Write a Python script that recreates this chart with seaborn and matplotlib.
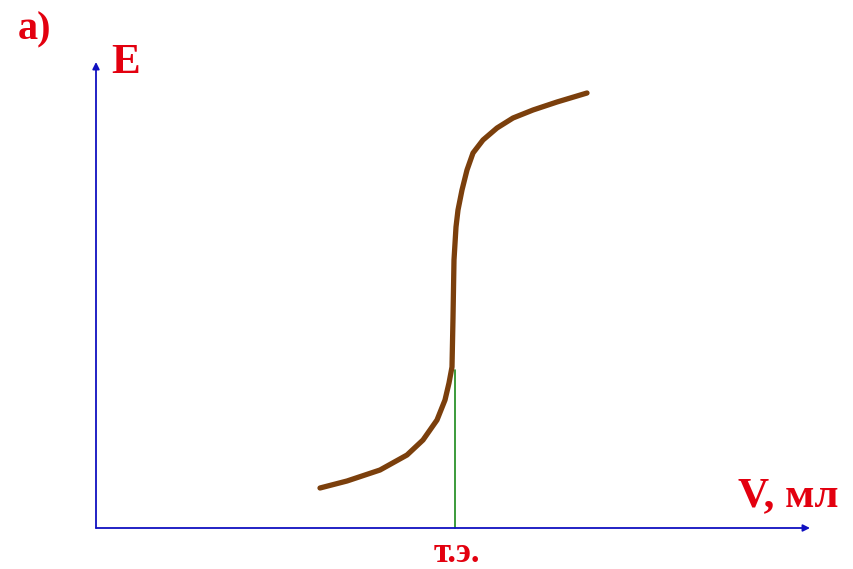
import numpy as np
import pandas as pd
import matplotlib
matplotlib.use('Agg')
import matplotlib.pyplot as plt
import seaborn as sns

# titration curve (arbitrary units)
volume = [11.2, 12.55, 14.2, 15.55, 16.35, 17.05, 17.45, 17.65, 17.8, 17.85,
          17.85, 17.9, 18.0, 18.1, 18.3, 18.55, 18.85, 19.35, 20.05, 20.85,
          21.85, 23.05, 24.55]
potential = [2.0, 2.35, 2.9, 3.65, 4.4, 5.4, 6.4, 7.25, 8.05, 9.25,
             11.75, 13.4, 15.05, 15.9, 16.9, 17.9, 18.75, 19.4, 20.0, 20.5,
             20.9, 21.3, 21.75]

eq_volume = 17.95
eq_potential = 7.9

x_axis_end = 35.7
y_axis_end = 23.3

panel_label = 'а)'
y_label = 'E'
x_label = 'V, мл'
eq_label = 'т.э.'

df = pd.DataFrame({'V': volume, 'E': potential})

sns.set_style('white')
plt.rcParams['font.family'] = ['Liberation Serif', 'DejaVu Serif']

fig = plt.figure(figsize=(8.54, 5.69), dpi=100)
ax = fig.add_axes([0, 0, 1, 1])
ax.set_xlim(-4.8, 37.9)
ax.set_ylim(-2.05, 26.4)
ax.axis('off')

red = '#e3000f'
blue = '#1010c0'

# axes with arrows
ax.annotate('', xy=(x_axis_end, 0), xytext=(0, 0),
            arrowprops=dict(arrowstyle='-|>', color=blue, lw=1.3,
                            mutation_scale=10, shrinkA=0, shrinkB=0))
ax.annotate('', xy=(0, y_axis_end), xytext=(0, 0),
            arrowprops=dict(arrowstyle='-|>', color=blue, lw=1.3,
                            mutation_scale=10, shrinkA=0, shrinkB=0))

# equivalence point line
ax.plot([eq_volume, eq_volume], [0, eq_potential], color='#1a8a1a', lw=1.2, zorder=2)

# curve
sns.lineplot(data=df, x='V', y='E', sort=False, color='#7b3f0c',
             linewidth=3.8, ax=ax, zorder=3, solid_joinstyle='round',
             solid_capstyle='round')
ax.set_xlabel('')
ax.set_ylabel('')

ax.text(-3.05, 24.9, panel_label, color=red, fontsize=29, fontweight='bold',
        ha='center', va='center')
ax.text(1.5, 23.25, y_label, color=red, fontsize=31, fontweight='bold',
        ha='center', va='center')
ax.text(34.6, 1.6, x_label, color=red, fontsize=31, fontweight='bold',
        ha='center', va='center')
ax.text(18.05, -1.25, eq_label, color=red, fontsize=25, fontweight='bold',
        ha='center', va='center')

fig.savefig('out.png', dpi=100)
